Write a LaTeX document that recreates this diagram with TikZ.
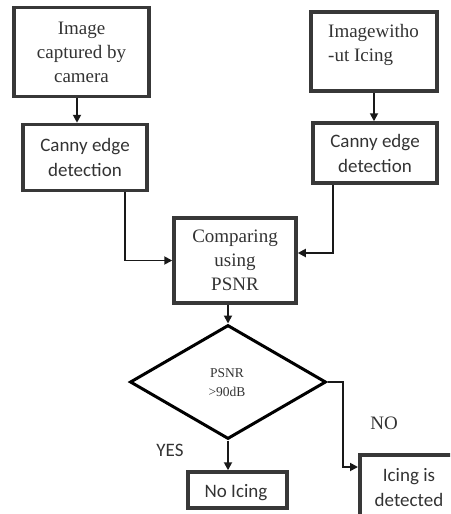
\documentclass[tikz,border=0pt]{standalone}
\usepackage{fontspec}
\setmainfont{Liberation Serif}
\newfontfamily\calibri{Carlito}
\usetikzlibrary{shapes.geometric,arrows.meta,calc}

\tikzset{
  box/.style={draw=black!78, line width=3.5pt, rectangle, inner sep=0pt,
              text=black!80, align=center},
  serifbig/.style={font=\fontsize{19}{24}\selectfont},
  sansbig/.style={font=\calibri\fontsize{19}{25}\selectfont},
  arr/.style={draw=black!90, line width=1.8pt,
              -{Triangle[length=8pt,width=8pt]}},
  plain/.style={text=black!80, inner sep=0pt}
}

\begin{document}
\begin{tikzpicture}[x=1pt,y=-1pt]
  \useasboundingbox (0,0) rectangle (450,514);
  \clip (0,0) rectangle (450,514);

  % left column
  \node[box, serifbig, minimum width=135pt, minimum height=89pt] (cam) at (81.5,52)
    {Image\\captured by\\camera};
  \node[box, sansbig, minimum width=124pt, minimum height=66pt] (cannyL) at (85,157.5)
    {Canny edge\\detection};

  % right column
  \node[box, minimum width=126pt, minimum height=79pt] (ref) at (374,51.5) {};
  \node[plain, serifbig, anchor=west, align=left] (reftext) at (328,44.5)
    {Imagewitho\\-ut Icing};
  \node[box, sansbig, minimum width=124pt, minimum height=60pt] (cannyR) at (375,153)
    {Canny edge\\detection};

  % comparison
  \node[box, serifbig, minimum width=122pt, minimum height=85pt] (cmp) at (235,260.5)
    {Comparing\\using\\PSNR};

  % decision
  \node[draw=black, line width=3pt, diamond, inner sep=0pt,
        minimum width=196pt, minimum height=114pt] (dec) at (228,382) {};
  \node[plain, font=\fontsize{13.5}{19}\selectfont, align=center] (dectext) at (227,382.5)
    {PSNR\\>90dB};

  % outcomes
  \node[box, minimum width=99pt, minimum height=36pt] (noice) at (237.5,490) {};
  \node[plain, sansbig] (noicetext) at (236,493) {No Icing};
  \node[box, minimum width=112pt, minimum height=87pt, anchor=north west] (ice) at (358,453) {};
  \node[plain, sansbig, align=center] (icetext) at (409,487.5)
    {Icing is\\detected};

  \node[plain, font=\calibri\fontsize{19}{22}\selectfont] (yes) at (170,450) {YES};
  \node[plain, font=\fontsize{19}{22}\selectfont] (no) at (384,423) {NO};

  % connectors
  \draw[arr] ([xshift=-4.5pt]cam.south) -- ([xshift=-4.5pt]cam.south |- cannyL.north);
  \draw[arr] ([xshift=40pt]cannyL.south) |- (cmp.west);
  \draw[arr] (ref.south) -- (ref.south |- cannyR.north);
  \draw[arr] ([xshift=-42pt]cannyR.south) |- ([yshift=7.5pt]cmp.east);
  \draw[arr] ([xshift=-7pt]cmp.south) -- (dec.north);
  \draw[arr] (dec.south) -- (dec.south |- noice.north);
  \coordinate (bend) at (343,467);
  \draw[arr] (dec.east) -| (bend) -- (bend -| ice.west);
\end{tikzpicture}
\end{document}
